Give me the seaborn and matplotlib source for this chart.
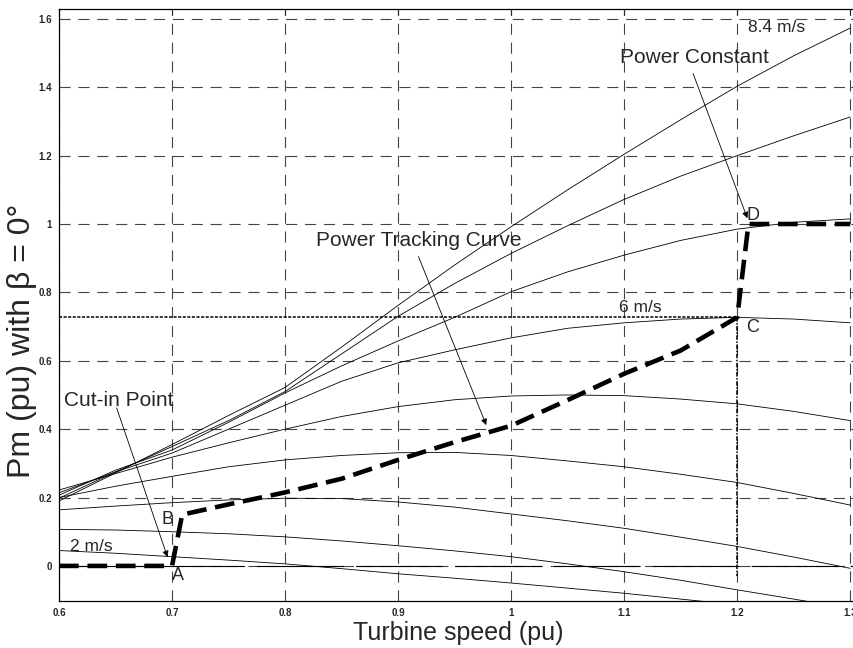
import numpy as np
import pandas as pd
import matplotlib
matplotlib.use("Agg")
import matplotlib.pyplot as plt
import seaborn as sns

# ---------------- data ----------------
speed = [0.6, 0.65, 0.7, 0.75, 0.8, 0.85, 0.9, 0.95, 1.0, 1.05, 1.1, 1.15, 1.2, 1.25, 1.3]

p_8_4 = [0.190, 0.272, 0.355, 0.440, 0.522, 0.640, 0.762, 0.880, 0.992, 1.100, 1.204, 1.305, 1.403, 1.492, 1.573]
p_7_6 = [0.198, 0.275, 0.349, 0.425, 0.510, 0.620, 0.730, 0.826, 0.914, 0.995, 1.072, 1.140, 1.200, 1.258, 1.313]
p_6_8 = [0.207, 0.280, 0.339, 0.420, 0.506, 0.585, 0.658, 0.727, 0.802, 0.860, 0.909, 0.952, 0.985, 1.005, 1.015]
p_6_0 = [0.214, 0.275, 0.330, 0.400, 0.470, 0.540, 0.594, 0.632, 0.667, 0.695, 0.711, 0.722, 0.727, 0.722, 0.711]
p_5_2 = [0.222, 0.270, 0.318, 0.360, 0.400, 0.437, 0.466, 0.486, 0.497, 0.500, 0.498, 0.488, 0.474, 0.452, 0.425]
p_4_4 = [0.200, 0.233, 0.262, 0.290, 0.310, 0.323, 0.331, 0.332, 0.323, 0.307, 0.290, 0.268, 0.244, 0.212, 0.178]
p_3_6 = [0.164, 0.175, 0.185, 0.193, 0.198, 0.197, 0.187, 0.172, 0.152, 0.132, 0.110, 0.084, 0.057, 0.026, -0.007]
p_2_8 = [0.107, 0.105, 0.100, 0.094, 0.085, 0.073, 0.059, 0.044, 0.027, 0.006, -0.017, -0.042, -0.070, -0.097, -0.125]
p_2_0 = [0.045, 0.037, 0.027, 0.017, 0.006, -0.008, -0.023, -0.036, -0.050, -0.065, -0.080, -0.097, -0.114, -0.130, -0.150]

wind_labels = ["8.4", "7.6", "6.8", "6.0", "5.2", "4.4", "3.6", "2.8", "2.0"]
curves = [p_8_4, p_7_6, p_6_8, p_6_0, p_5_2, p_4_4, p_3_6, p_2_8, p_2_0]

track_x = [0.6, 0.7, 0.709, 0.75, 0.8, 0.85, 0.9, 0.95, 1.0, 1.05, 1.1, 1.15, 1.2, 1.21, 1.3]
track_y = [0.0, 0.0, 0.150, 0.180, 0.215, 0.255, 0.310, 0.362, 0.410, 0.485, 0.562, 0.630, 0.727, 1.0, 1.0]

xticks = [0.6, 0.7, 0.8, 0.9, 1.0, 1.1, 1.2, 1.3]
xticklabels = ["0.6", "0.7", "0.8", "0.9", "1", "1.1", "1.2", "1.3"]
yticks = [0, 0.2, 0.4, 0.6, 0.8, 1.0, 1.2, 1.4, 1.6]
yticklabels = ["0", "0.2", "0.4", "0.6", "0.8", "1", "1.2", "1.4", "1.6"]

# ---------------- figure ----------------
sns.set_style("white")
plt.rcParams["font.family"] = ["Liberation Sans", "DejaVu Sans"]

fig = plt.figure(figsize=(8.54, 6.48), dpi=100)
ax = fig.add_axes([0.0691, 0.0718, 0.9344, 0.9144])

df = pd.DataFrame({
    "speed": np.tile(speed, len(curves)),
    "power": np.concatenate(curves),
    "wind": np.repeat(wind_labels, len(speed)),
})
sns.lineplot(data=df, x="speed", y="power", units="wind", estimator=None,
             color="black", lw=0.6, ax=ax, sort=False)

tdf = pd.DataFrame({"speed": track_x, "power": track_y})
sns.lineplot(data=tdf, x="speed", y="power", color="black", lw=3.3,
             ax=ax, sort=False, estimator=None, dashes=False)
ax.lines[-1].set_linestyle((0, (4.3, 1.9)))

# thin dotted guide lines at point C
ax.plot([0.6, 1.2], [0.727, 0.727], color="black", lw=1.1, ls=(0, (2, 1)))
ax.plot([1.2, 1.2], [0.727, -0.03], color="black", lw=1.1, ls=(0, (3, 1, 1, 1)))
# long-dashed zero line
ax.axhline(0, color="black", lw=0.8, ls=(0, (78, 11)), zorder=1)

ax.set_xlim(0.6, 1.306)
ax.set_ylim(-0.104, 1.629)
ax.set_xticks(xticks)
ax.set_xticklabels(xticklabels, fontsize=7, fontweight="bold")
ax.set_yticks(yticks)
ax.set_yticklabels(yticklabels, fontsize=7, fontweight="bold")
ax.tick_params(direction="in", top=True, right=True, length=4, width=0.8, pad=5)
ax.grid(True, color="#444444", lw=0.8, ls=(0, (10, 7)))
for s in ax.spines.values():
    s.set_color("black")
    s.set_linewidth(0.9)

ax.set_xlabel("Turbine speed (pu)", fontsize=18, labelpad=2)
ax.set_ylabel("Pm (pu) with β = 0°", fontsize=23)
ax.yaxis.set_label_coords(-0.028, 0.44)

# annotations
arrow = dict(arrowstyle="-|>", color="black", lw=0.6, mutation_scale=9, shrinkA=0, shrinkB=0)
ax.annotate("", xy=(0.696, 0.026), xytext=(0.651, 0.462), arrowprops=arrow)
ax.text(0.653, 0.485, "Cut-in Point", fontsize=15, ha="center", va="center")
ax.annotate("", xy=(0.978, 0.412), xytext=(0.918, 0.905), arrowprops=arrow)
ax.text(0.918, 0.952, "Power Tracking Curve", fontsize=15, ha="center", va="center")
ax.annotate("", xy=(1.209, 1.017), xytext=(1.161, 1.44), arrowprops=arrow)
ax.text(1.162, 1.487, "Power Constant", fontsize=15, ha="center", va="center")

ax.text(1.235, 1.576, "8.4 m/s", fontsize=12.5, ha="center", va="center")
ax.text(1.114, 0.757, "6 m/s", fontsize=12.5, ha="center", va="center")
ax.text(0.629, 0.058, "2 m/s", fontsize=12.5, ha="center", va="center")
ax.text(0.705, -0.029, "A", fontsize=13, ha="center", va="center")
ax.text(0.696, 0.137, "B", fontsize=13, ha="center", va="center")
ax.text(1.214, 0.696, "C", fontsize=13, ha="center", va="center")
ax.text(1.214, 1.026, "D", fontsize=13, ha="center", va="center")

fig.savefig("out.png", dpi=100)
